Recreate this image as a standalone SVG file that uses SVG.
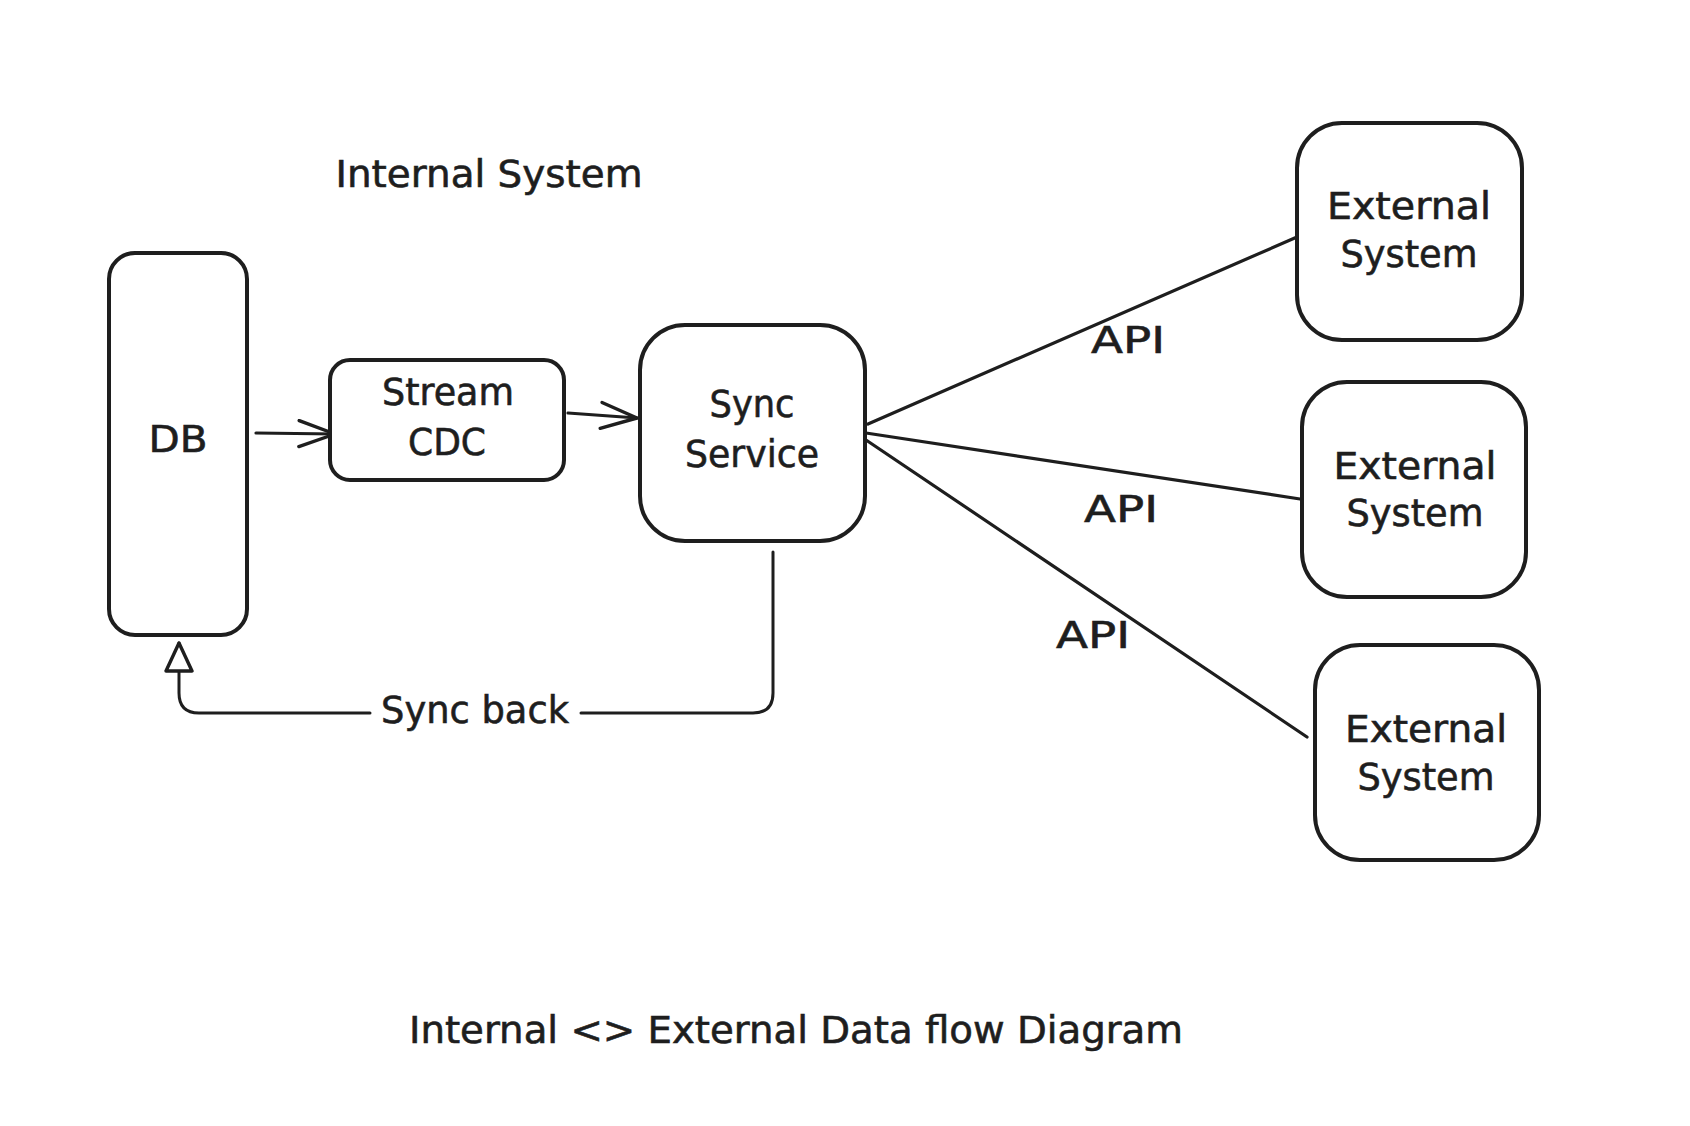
<svg xmlns="http://www.w3.org/2000/svg" width="1690" height="1126" viewBox="0 0 1690 1126">
<style>
  .box { fill: #ffffff; stroke: #1e1e1e; stroke-width: 4; }
  .t { font-family: "DejaVu Sans", "Liberation Sans", sans-serif; font-size: 37px; fill: #1e1e1e; stroke: #1e1e1e; stroke-width: 0.6; text-anchor: middle; }
  .conn { fill: none; stroke: #1e1e1e; stroke-width: 3.2; stroke-linecap: round; stroke-linejoin: round; }
  .thin { stroke-width: 3; }
</style>
<defs>
  <marker id="chev" markerUnits="userSpaceOnUse" viewBox="0 0 40 30" refX="38" refY="15" markerWidth="40" markerHeight="30" orient="auto">
    <path d="M2,2 L38,15 L2,28" fill="none" stroke="#1e1e1e" stroke-width="3.4" stroke-linecap="round" stroke-linejoin="round"/>
  </marker>
  <marker id="tri" markerUnits="userSpaceOnUse" viewBox="0 0 34 30" refX="31" refY="15" markerWidth="34" markerHeight="30" orient="auto">
    <path d="M3,2 L31,15 L3,28 Z" fill="#ffffff" stroke="#1e1e1e" stroke-width="3.4" stroke-linejoin="round"/>
  </marker>
</defs>
<rect width="1690" height="1126" fill="#ffffff"/>

<g id="connectors">
  <path class="conn" d="M256,433 L335,434" marker-end="url(#chev)"/>
  <path class="conn" d="M568,413 L637,418" marker-end="url(#chev)"/>
  <path class="conn" stroke-width="4" d="M868,424 L1297,237"/>
  <path class="conn" stroke-width="4" d="M866,433 L1300,499"/>
  <path class="conn" d="M866,440 L1307,737"/>
  <path class="conn thin" d="M773,552 L773,693 Q773,713 753,713 L581,713"/>
  <path class="conn thin" d="M370,713 L199,713 Q179,713 179,693 L179,643" marker-end="url(#tri)"/>
  <text class="t" x="1128" y="353" textLength="74" lengthAdjust="spacingAndGlyphs">API</text>
  <text class="t" x="1121" y="522" textLength="74" lengthAdjust="spacingAndGlyphs">API</text>
  <text class="t" x="1093" y="648" textLength="74" lengthAdjust="spacingAndGlyphs">API</text>
  <text class="t" x="475" y="723" textLength="188" lengthAdjust="spacingAndGlyphs">Sync back</text>
</g>

<g id="db">
  <rect class="box" x="109" y="253" width="138" height="382" rx="26"/>
  <text class="t" x="178" y="452" textLength="59" lengthAdjust="spacingAndGlyphs">DB</text>
</g>

<g id="stream-cdc">
  <rect class="box" x="330" y="360" width="234" height="120" rx="20"/>
  <text class="t" x="448" y="405" textLength="132" lengthAdjust="spacingAndGlyphs">Stream</text>
  <text class="t" x="447" y="455" textLength="78" lengthAdjust="spacingAndGlyphs">CDC</text>
</g>

<g id="sync-service">
  <rect class="box" x="640" y="325" width="225" height="216" rx="45"/>
  <text class="t" x="752" y="417" textLength="85" lengthAdjust="spacingAndGlyphs">Sync</text>
  <text class="t" x="752" y="467" textLength="134" lengthAdjust="spacingAndGlyphs">Service</text>
</g>

<g id="ext-1">
  <rect class="box" x="1297" y="123" width="225" height="217" rx="45"/>
  <text class="t" x="1409" y="219" textLength="164" lengthAdjust="spacingAndGlyphs">External</text>
  <text class="t" x="1409" y="267" textLength="137" lengthAdjust="spacingAndGlyphs">System</text>
</g>

<g id="ext-2">
  <rect class="box" x="1302" y="382" width="224" height="215" rx="45"/>
  <text class="t" x="1415" y="479" textLength="163" lengthAdjust="spacingAndGlyphs">External</text>
  <text class="t" x="1415" y="526" textLength="137" lengthAdjust="spacingAndGlyphs">System</text>
</g>

<g id="ext-3">
  <rect class="box" x="1315" y="645" width="224" height="215" rx="45"/>
  <text class="t" x="1426" y="742" textLength="162" lengthAdjust="spacingAndGlyphs">External</text>
  <text class="t" x="1426" y="790" textLength="137" lengthAdjust="spacingAndGlyphs">System</text>
</g>

<g id="labels">
  <text class="t" x="489" y="187" textLength="307" lengthAdjust="spacingAndGlyphs">Internal System</text>
  <text class="t" x="796" y="1043" textLength="774" lengthAdjust="spacingAndGlyphs">Internal &lt;&gt; External Data flow Diagram</text>
</g>
</svg>
